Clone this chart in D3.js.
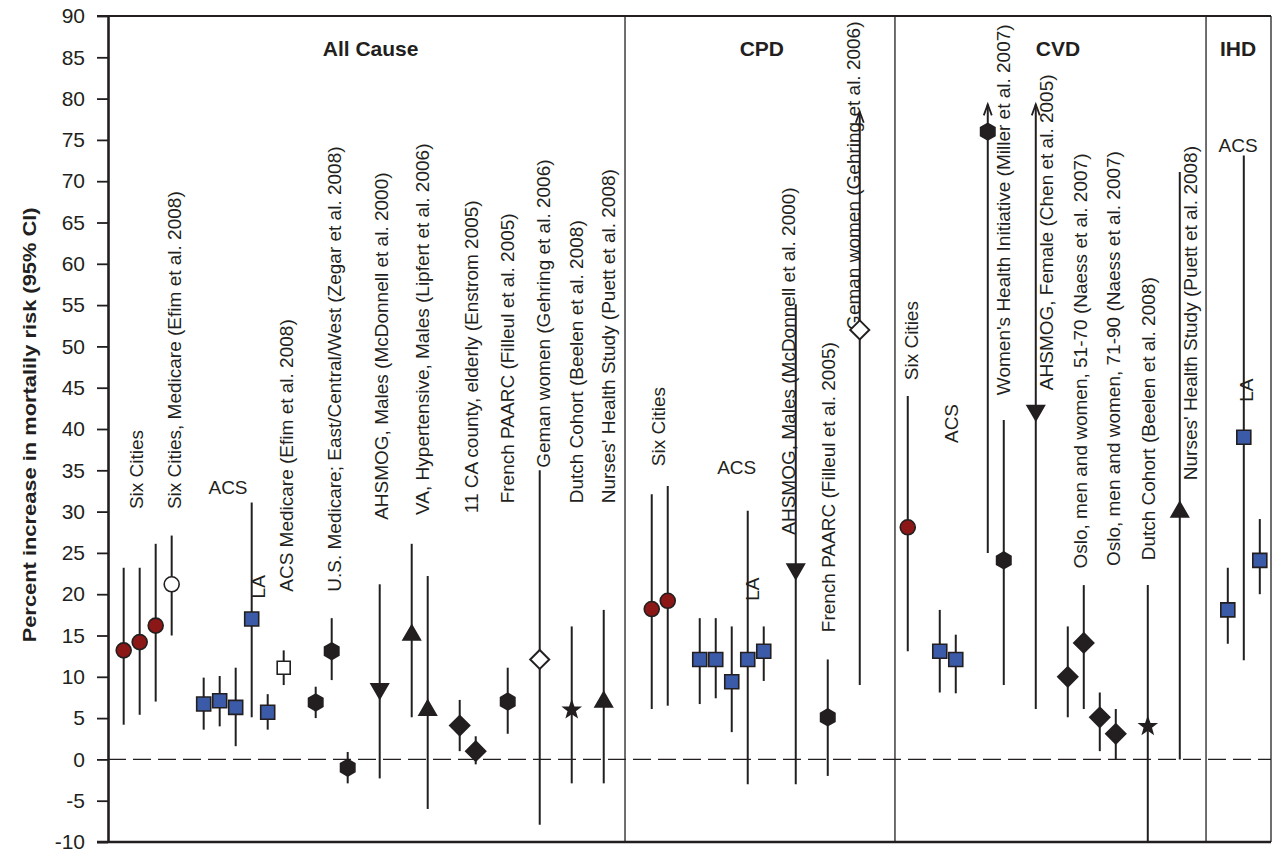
<!DOCTYPE html>
<html>
<head>
<meta charset="utf-8">
<script src="https://cdn.jsdelivr.net/npm/d3@7"></script>
<style>
body { margin: 0; background: #fff; }
svg text { font-family: "Liberation Sans", Arial, sans-serif; fill: #231f20; }
</style>
</head>
<body>
<svg id="chart" width="1275" height="850"></svg>
<script>
// GROUPS
// Outcome groups, their title positions and the dividers between them (in study slots)
var groupNames = ["All Cause", "CPD", "CVD", "IHD"];
var groupCenters = [15.43, 39.88, 58.39, 69.64];
var groupDividers = [31.33, 48.2, 67.64];

// STUDIES
// [slot, estimate, lower CI, upper CI, marker, arrow when the CI runs off]
var allCause = [
    [0, 13.2, 4.2, 23.2, "redCircle"],
    [1, 14.2, 5.4, 23.2, "redCircle"],
    [2, 16.2, 7.0, 26.1, "redCircle"],
    [3, 21.2, 15.0, 27.1, "openCircle"],
    [5, 6.7, 3.6, 9.9, "blueSquare"],
    [6, 7.1, 4.0, 10.1, "blueSquare"],
    [7, 6.3, 1.6, 11.1, "blueSquare"],
    [8, 17.0, 5.1, 31.1, "blueSquare"],
    [9, 5.7, 3.6, 7.9, "blueSquare"],
    [10, 11.1, 9.0, 13.2, "openSquare"],
    [12, 6.9, 5.0, 8.8, "hexagon"],
    [13, 13.1, 9.6, 17.1, "hexagon"],
    [14, -1.0, -2.9, 0.9, "hexagon"],
    [16, 8.3, -2.3, 21.2, "triDown"],
    [18, 15.3, 5.1, 26.1, "triUp"],
    [19, 6.2, -6.0, 22.2, "triUp"],
    [21, 4.1, 1.0, 7.2, "diamond"],
    [22, 1.0, -0.6, 2.8, "diamond"],
    [24, 7.0, 3.1, 11.1, "hexagon"],
    [26, 12.1, -7.9, 35.0, "openDiamond"],
    [28, 6.0, -2.9, 16.1, "star"],
    [30, 7.2, -2.9, 18.1, "triUp"]
];

var cpd = [
    [33, 18.2, 6.1, 32.1, "redCircle"],
    [34, 19.2, 6.5, 33.1, "redCircle"],
    [36, 12.1, 6.7, 17.1, "blueSquare"],
    [37, 12.1, 7.4, 17.1, "blueSquare"],
    [38, 9.4, 3.3, 16.1, "blueSquare"],
    [39, 12.1, -3.0, 30.1, "blueSquare"],
    [40, 13.1, 9.5, 16.1, "blueSquare"],
    [42, 22.8, -3.0, 55.1, "triDown"],
    [44, 5.1, -2.0, 12.1, "hexagon"],
    [46, 52.0, 9.0, 78.4, "openDiamond", true]
];

var cvd = [
    [49, 28.1, 13.1, 44.0, "redCircle"],
    [51, 13.1, 8.1, 18.1, "blueSquare"],
    [52, 12.1, 8.0, 15.1, "blueSquare"],
    [54, 76.0, 25.0, 79.3, "hexagon", true],
    [55, 24.1, 9.0, 41.1, "hexagon"],
    [57, 42.0, 6.1, 79.3, "triDown", true],
    [59, 10.0, 5.1, 16.1, "diamond"],
    [60, 14.1, 6.1, 21.1, "diamond"],
    [61, 5.1, 1.0, 8.1, "diamond"],
    [62, 3.1, 0.0, 6.1, "diamond"],
    [64, 4.0, -10.0, 21.1, "star"],
    [66, 30.2, 0.0, 71.1, "triUp"]
];

var ihd = [
    [69, 18.1, 14.0, 23.2, "blueSquare"],
    [70, 39.0, 12.0, 73.1, "blueSquare"],
    [71, 24.1, 20.0, 29.1, "blueSquare"]
];

// LABELS
// Rotated study labels: [text, slot, value where the text starts]
var allCauseLabels = [
    ["Six Cities", 0.77, 30.3],
    ["Six Cities, Medicare (Efim et al. 2008)", 3.14, 30.3],
    ["ACS Medicare (Efim et al. 2008)", 10.19, 20.3],
    ["U.S. Medicare; East/Central/West (Zegar et al. 2008)", 13.14, 20.3],
    ["AHSMOG, Males (McDonnell et al. 2000)", 16.11, 29.0],
    ["VA, Hypertensive, Males (Lipfert et al. 2006)", 18.64, 29.6],
    ["11 CA county, elderly (Enstrom 2005)", 21.71, 29.8],
    ["French PAARC (Filleul et al. 2005)", 23.99, 31.0],
    ["Geman women (Gehring et al. 2006)", 26.21, 35.3],
    ["Dutch Cohort (Beelen et al. 2008)", 28.27, 31.0],
    ["Nurses' Health Study (Puett et al. 2008)", 30.27, 31.0]
];

var cpdLabels = [
    ["Six Cities", 33.41, 35.5],
    ["AHSMOG, Males (McDonnell et al. 2000)", 41.54, 27.2],
    ["French PAARC (Filleul et al. 2005)", 44.04, 15.4],
    ["Geman women (Gehring et al. 2006)", 45.6, 52.0]
];

var cvdLabels = [
    ["Six Cities", 49.25, 45.9],
    ["ACS", 51.75, 38.3],
    ["Women's Health Initiative (Miller et al. 2007)", 54.98, 44.1],
    ["AHSMOG, Female (Chen et al. 2005)", 57.69, 44.7],
    ["Oslo, men and women, 51-70 (Naess et al. 2007)", 59.77, 23.1],
    ["Oslo, men and women, 71-90 (Naess et al. 2007)", 61.85, 23.4],
    ["Dutch Cohort (Beelen et al. 2008)", 64.04, 24.1],
    ["Nurses' Health Study (Puett et al. 2008)", 66.64, 33.8]
];

// "LA" tags, rotated and centred: [text, slot, value]
var laLabels = [["LA", 8.39, 20.9], ["LA", 39.29, 20.6], ["LA", 70.14, 44.7]];

// Horizontal "ACS" tags: [text, slot, value]
var flatLabels = [["ACS", 6.52, 32.9], ["ACS", 38.31, 35.3], ["ACS", 69.64, 74.3]];

var yTicks = d3.range(-10, 91, 5);

// SCALES
var x = d3.scaleLinear().domain([-0.98, 71.7]).range([108, 1271]);
var y = d3.scaleLinear().domain([-10, 90]).range([842, 16]);

var ink = "#231f20";
var svg = d3.select("#chart");

// FUNCTION
// Returns a path for a marker centred on 0,0
function markerPath(type) {
    var p = d3.path(), i, a, r;
    switch (type) {
        case "redCircle":
        case "openCircle":
            p.arc(0, 0, 7.5, 0, 2 * Math.PI);
            break;
        case "blueSquare":
            p.rect(-7, -7, 14, 14);
            break;
        case "openSquare":
            p.rect(-6.5, -6.5, 13, 13);
            break;
        case "hexagon":
            for (i = 0; i < 6; i++) {
                a = -Math.PI / 2 + i * Math.PI / 3;
                if (i === 0) p.moveTo(8.3 * Math.cos(a), 8.3 * Math.sin(a));
                else p.lineTo(8.3 * Math.cos(a), 8.3 * Math.sin(a));
            }
            break;
        case "diamond":
            p.moveTo(0, -10); p.lineTo(10, 0); p.lineTo(0, 10); p.lineTo(-10, 0);
            break;
        case "openDiamond":
            p.moveTo(0, -9.5); p.lineTo(9.5, 0); p.lineTo(0, 9.5); p.lineTo(-9.5, 0);
            break;
        case "triUp":
            p.moveTo(0, -8); p.lineTo(8.7, 7); p.lineTo(-8.7, 7);
            break;
        case "triDown":
            p.moveTo(0, 8); p.lineTo(8.7, -7); p.lineTo(-8.7, -7);
            break;
        case "star":
            for (i = 0; i < 10; i++) {
                a = -Math.PI / 2 + i * Math.PI / 5;
                r = i % 2 === 0 ? 8.5 : 3.5;
                if (i === 0) p.moveTo(r * Math.cos(a), r * Math.sin(a));
                else p.lineTo(r * Math.cos(a), r * Math.sin(a));
            }
            break;
    }
    p.closePath();
    return p.toString();
}

function markerFill(type) {
    switch (type) {
        case "redCircle": return "#8b1717";
        case "blueSquare": return "#3b5ba8";
        case "openCircle":
        case "openSquare":
        case "openDiamond": return "#fff";
    }
    return ink;
}

// AXES
var yAxis = d3.axisLeft(y)
    .tickValues(yTicks)
    .tickFormat(function(d) { return String(d); })
    .tickSize(11)
    .tickSizeOuter(0)
    .tickPadding(12);

var axisG = svg.append("g")
    .attr("transform", "translate(" + x(-0.98) + ",0)")
    .call(yAxis);
axisG.select(".domain").attr("stroke", ink).attr("stroke-width", 2.6);
axisG.selectAll(".tick line").attr("stroke", ink).attr("stroke-width", 1.8);
axisG.selectAll(".tick text")
    .style("font-size", "21px")
    .style("font-family", "'Liberation Sans', Arial, sans-serif")
    .attr("fill", ink);

// frame: top, bottom, right
svg.append("line")
    .attr("x1", x(-0.98) - 11).attr("x2", x(71.7))
    .attr("y1", y(90)).attr("y2", y(90))
    .attr("stroke", ink).attr("stroke-width", 2);
svg.append("line")
    .attr("x1", x(-0.98) - 11).attr("x2", x(71.7))
    .attr("y1", y(-10)).attr("y2", y(-10))
    .attr("stroke", ink).attr("stroke-width", 2.4);
svg.append("line")
    .attr("x1", x(71.7)).attr("x2", x(71.7))
    .attr("y1", y(90)).attr("y2", y(-10))
    .attr("stroke", ink).attr("stroke-width", 1.3);

// group dividers
svg.selectAll(".divider")
    .data(groupDividers)
  .enter().append("line")
    .attr("class", "divider")
    .attr("x1", function(d) { return x(d); })
    .attr("x2", function(d) { return x(d); })
    .attr("y1", y(90)).attr("y2", y(-10))
    .attr("stroke", ink).attr("stroke-width", 1.3);

// zero line
svg.append("line")
    .attr("x1", x(-0.98)).attr("x2", x(71.7))
    .attr("y1", y(0)).attr("y2", y(0))
    .attr("stroke", ink).attr("stroke-width", 1.3)
    .attr("stroke-dasharray", "18,7");

// axis title
svg.append("text")
    .attr("transform", "translate(29," + y(40.5) + ") rotate(-90)")
    .attr("text-anchor", "middle")
    .attr("dy", "0.35em")
    .attr("textLength", 435)
    .attr("lengthAdjust", "spacingAndGlyphs")
    .style("font-size", "19px")
    .style("font-weight", "bold")
    .text("Percent increase in mortalily risk (95% CI)");

// group titles
svg.selectAll(".group-title")
    .data(groupNames)
  .enter().append("text")
    .attr("class", "group-title")
    .attr("x", function(d, i) { return x(groupCenters[i]); })
    .attr("y", y(86))
    .attr("dy", "0.35em")
    .attr("text-anchor", "middle")
    .style("font-size", "21px")
    .style("font-weight", "bold")
    .text(function(d) { return d; });

// study labels
var rotLabels = allCauseLabels.concat(cpdLabels, cvdLabels);
svg.selectAll(".study-label")
    .data(rotLabels)
  .enter().append("text")
    .attr("class", "study-label")
    .attr("transform", function(d) { return "translate(" + x(d[1]) + "," + y(d[2]) + ") rotate(-90)"; })
    .attr("dy", "0.35em")
    .style("font-size", "19px")
    .text(function(d) { return d[0]; });

svg.selectAll(".la-label")
    .data(laLabels)
  .enter().append("text")
    .attr("class", "la-label")
    .attr("transform", function(d) { return "translate(" + x(d[1]) + "," + y(d[2]) + ") rotate(-90)"; })
    .attr("dy", "0.35em")
    .attr("text-anchor", "middle")
    .style("font-size", "19px")
    .text(function(d) { return d[0]; });

svg.selectAll(".flat-label")
    .data(flatLabels)
  .enter().append("text")
    .attr("class", "flat-label")
    .attr("x", function(d) { return x(d[1]); })
    .attr("y", function(d) { return y(d[2]); })
    .attr("dy", "0.35em")
    .attr("text-anchor", "middle")
    .style("font-size", "19px")
    .text(function(d) { return d[0]; });

// STUDIES
var studies = allCause.concat(cpd, cvd, ihd);

// confidence intervals
svg.selectAll(".ci")
    .data(studies)
  .enter().append("line")
    .attr("class", "ci")
    .attr("x1", function(d) { return x(d[0]); })
    .attr("x2", function(d) { return x(d[0]); })
    .attr("y1", function(d) { return y(d[2]); })
    .attr("y2", function(d) { return y(d[3]); })
    .attr("stroke", ink)
    .attr("stroke-width", 2);

// arrowheads for intervals that run off
svg.selectAll(".arrow")
    .data(studies.filter(function(d) { return d[5]; }))
  .enter().append("path")
    .attr("class", "arrow")
    .attr("transform", function(d) { return "translate(" + x(d[0]) + "," + y(d[3]) + ")"; })
    .attr("d", "M-4,11L0,0L4,11")
    .attr("fill", "none")
    .attr("stroke", ink)
    .attr("stroke-width", 1.8);

// markers
svg.selectAll(".marker")
    .data(studies)
  .enter().append("path")
    .attr("class", "marker")
    .attr("transform", function(d) { return "translate(" + x(d[0]) + "," + y(d[1]) + ")"; })
    .attr("d", function(d) { return markerPath(d[4]); })
    .attr("fill", function(d) { return markerFill(d[4]); })
    .attr("stroke", ink)
    .attr("stroke-width", function(d) { return d[4] === "openDiamond" ? 2 : 1.6; })
    .attr("stroke-linejoin", "miter");
</script>
</body>
</html>
